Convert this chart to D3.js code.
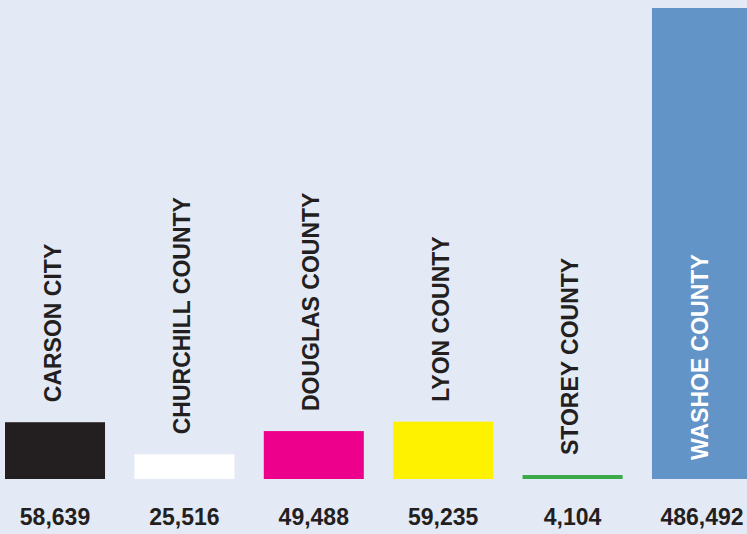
<!DOCTYPE html>
<html>
<head>
<meta charset="utf-8">
<script src="https://cdn.jsdelivr.net/npm/d3@7"></script>
<style>
  body { margin: 0; background: #e3e9f5; }
  svg { display: block; font-family: "Liberation Sans", Arial, sans-serif; }
</style>
</head>
<body>
<svg width="747" height="534"></svg>
<script>
var width = 747;
var height = 534;

// data
var counties = ["CARSON CITY", "CHURCHILL COUNTY", "DOUGLAS COUNTY", "LYON COUNTY", "STOREY COUNTY", "WASHOE COUNTY"];
var population = [58639, 25516, 49488, 59235, 4104, 486492];
var barColors = ["#231f20", "#ffffff", "#ec008c", "#fff200", "#3aaa49", "#6394c7"];
var labelColors = ["#231f20", "#231f20", "#231f20", "#231f20", "#231f20", "#ffffff"];

var rows = counties.map(function (c, i) {
  return {name: c, value: population[i], fill: barColors[i], text: labelColors[i]};
});

var baseline = 479;

var x = d3.scaleBand().domain(counties).range([5, 752]).paddingInner(0.227).paddingOuter(0);
var y = d3.scaleLinear().domain([0, 486492]).range([baseline, 8]);

var svg = d3.select('svg');
var fmt = d3.format(',');

svg.selectAll('rect.bar')
  .data(rows)
  .enter()
  .append('rect')
  .attr('class', 'bar')
  .attr('x', function (d) { return x(d.name); })
  .attr('y', function (d) { return y(d.value); })
  .attr('width', x.bandwidth())
  .attr('height', function (d) { return baseline - y(d.value); })
  .attr('fill', function (d) { return d.fill; });

// rotated county names: above short bars, inside the tall one
function labelY(d) {
  var top = y(d.value);
  if (top < 250) return baseline - 19;
  return Math.min(top - 20, baseline - 19);
}

svg.selectAll('text.name')
  .data(rows)
  .enter()
  .append('text')
  .attr('class', 'name')
  .attr('transform', function (d) {
    var tx = x(d.name) + x.bandwidth() / 2 - 2.5;
    return 'translate(' + tx + ',' + labelY(d) + ') rotate(-90)';
  })
  .attr('dy', '0.35em')
  .attr('fill', function (d) { return d.text; })
  .style('font-size', '23px')
  .style('font-weight', 'bold')
  .text(function (d) { return d.name; });

// values under bars
svg.selectAll('text.value')
  .data(rows)
  .enter()
  .append('text')
  .attr('class', 'value')
  .attr('x', function (d) { return x(d.name) + x.bandwidth() / 2; })
  .attr('y', 525)
  .attr('text-anchor', 'middle')
  .attr('fill', '#231f20')
  .style('font-size', '23px')
  .style('font-weight', 'bold')
  .text(function (d) { return fmt(d.value); });
</script>
</body>
</html>
